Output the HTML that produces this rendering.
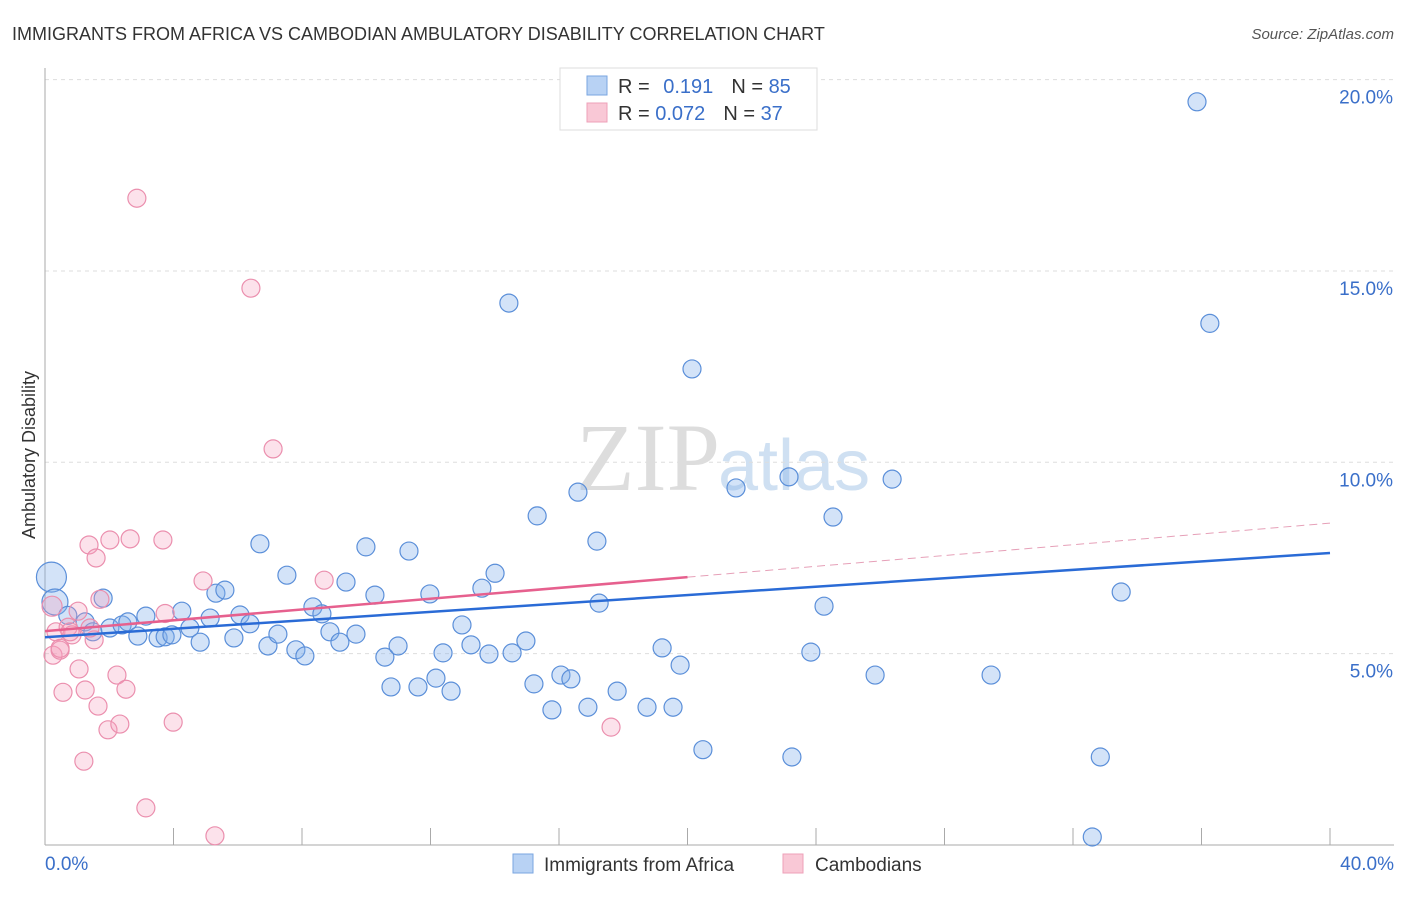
<!DOCTYPE html>
<html><head><meta charset="utf-8"><style>
body{margin:0;background:#fff;font-family:"Liberation Sans",sans-serif;}
</style></head><body>
<svg id="chart" width="1406" height="892" xmlns="http://www.w3.org/2000/svg" font-family="Liberation Sans, sans-serif">
<text x="12" y="40" font-size="18" fill="#333">IMMIGRANTS FROM AFRICA VS CAMBODIAN AMBULATORY DISABILITY CORRELATION CHART</text>
<text x="1394" y="39" font-size="15" fill="#555" text-anchor="end" font-style="italic">Source: ZipAtlas.com</text>
<text x="35" y="455" font-size="18" fill="#333" text-anchor="middle" transform="rotate(-90 35 455)">Ambulatory Disability</text>
<text x="720" y="490" font-size="96" fill="#ddd" text-anchor="end" font-family="Liberation Serif, serif">ZIP</text>
<text x="718" y="490" font-size="72" fill="#cfe0f2">atlas</text>
<g id="grid"></g><g id="axes"></g><g id="pts"></g><g id="trend"></g>
<g>
<rect x="560" y="68" width="257" height="62" fill="#fff" stroke="#ddd"/>
<rect x="587" y="76" width="20" height="19" fill="#b8d2f4" stroke="#7aa6e0"/>
<rect x="587" y="103" width="20" height="19" fill="#f9c8d6" stroke="#eea0b8"/>
<text x="618" y="93" font-size="20" fill="#333">R = <tspan fill="#3a6fc9" dx="8">0.191</tspan><tspan dx="18" fill="#333">N = </tspan><tspan fill="#3a6fc9">85</tspan></text>
<text x="618" y="120" font-size="20" fill="#333">R = <tspan fill="#3a6fc9">0.072</tspan><tspan dx="18" fill="#333">N = </tspan><tspan fill="#3a6fc9">37</tspan></text>
</g>
<g>
<rect x="513" y="854" width="20" height="19" fill="#b8d2f4" stroke="#7aa6e0"/>
<text x="544" y="871" font-size="19" fill="#333">Immigrants from Africa</text>
<rect x="783" y="854" width="20" height="19" fill="#f9c8d6" stroke="#eea0b8"/>
<text x="815" y="871" font-size="19" fill="#333">Cambodians</text>
</g>
</svg>
<script>
const yTicks=[5,10,15,20];
const yTickLabels=["5.0%","10.0%","15.0%","20.0%"];
const xTickLabels=["0.0%","40.0%"];
const blueX=[0.2,0.31,0.71,1.25,1.49,1.81,2.02,2.4,2.58,2.89,3.14,3.52,3.74,3.95,4.26,4.51,4.83,5.14,5.32,5.6,5.88,6.07,6.38,6.69,6.94,7.25,7.53,7.81,8.09,8.34,8.62,8.87,9.18,9.37,9.68,9.99,10.27,10.58,10.77,10.99,11.33,11.61,11.98,12.17,12.39,12.64,12.98,13.26,13.6,13.82,14.01,14.44,14.54,14.97,15.22,15.32,15.78,16.06,16.37,16.59,16.9,17.18,17.25,17.81,18.74,19.21,19.55,19.77,20.14,20.48,21.51,23.16,23.25,23.84,24.25,24.53,25.84,26.37,29.45,32.85,32.6,33.5,35.86,36.26];
const blueY=[7.0,6.35,6.0,5.83,5.57,6.45,5.67,5.75,5.83,5.46,5.98,5.41,5.44,5.49,6.11,5.67,5.3,5.93,6.58,6.66,5.41,6.01,5.78,7.87,5.2,5.51,7.05,5.1,4.94,6.22,6.04,5.57,5.3,6.87,5.51,7.79,6.53,4.91,4.13,5.2,7.68,4.13,6.56,4.36,5.02,4.02,5.75,5.23,6.71,4.99,7.1,14.16,5.02,5.33,4.21,8.6,3.53,4.44,4.34,9.22,3.6,7.94,6.32,4.02,3.6,5.15,3.6,4.7,12.44,2.49,9.33,9.62,2.3,5.04,6.24,8.57,4.44,9.56,4.44,2.3,0.21,6.61,19.42,13.63];
const blueR=[15,13].concat(Array(82).fill(9));
const pinkX=[0.22,0.25,0.34,0.47,0.56,0.72,0.84,1.03,1.06,1.25,1.37,1.53,1.59,1.65,1.71,2.02,1.96,2.24,2.33,2.52,2.65,2.86,3.14,3.67,3.74,3.99,4.92,5.29,6.41,7.1,8.69,1.21,17.62,0.47,0.78,1.4];
const pinkY=[6.24,4.96,5.57,5.09,3.99,5.69,5.49,6.11,4.6,4.05,7.84,5.36,7.5,3.63,6.42,7.97,3.01,4.44,3.16,4.07,8.0,16.9,0.97,7.97,6.05,3.21,6.9,0.24,14.55,10.35,6.92,2.19,3.08,5.14,5.57,5.67];
const blueTrend=[5.43,7.63];
const pinkTrend=[5.59,7.0];
const NS="http://www.w3.org/2000/svg";
const X0=45,X1=1330,Y0=845;
function xs(v){return X0+v*(X1-X0)/40;}
function ys(v){return Y0-v*38.27;}
function mk(tag,attrs,parent){const e=document.createElementNS(NS,tag);for(const k in attrs)e.setAttribute(k,attrs[k]);document.getElementById(parent).appendChild(e);return e;}
yTicks.forEach((t,i)=>{
 const l=mk('line',{x1:X0,x2:1394,y1:ys(t),y2:ys(t),stroke:'#ddd','stroke-dasharray':'4 4'},'grid');
 
 
 const tx=mk('text',{x:1393,y:ys(t)+24,'font-size':19,fill:'#3a6fc9','text-anchor':'end'},'grid');
 tx.textContent=yTickLabels[i];
 
 
});
const ax=mk('line',{x1:X0,x2:X0,y1:68,y2:Y0,stroke:'#aaa'},'axes');


const bx=mk('line',{x1:X0,x2:1394,y1:Y0,y2:Y0,stroke:'#aaa'},'axes');


for(let i=1;i<=10;i++){
 const t=mk('line',{x1:xs(i*4),x2:xs(i*4),y1:828,y2:Y0,stroke:'#aaa'},'axes');
 
 
}
[[0,'start',45],[40,'end',1394]].forEach((d,i)=>{
 const t=mk('text',{x:d[2],y:870,'font-size':19,fill:'#3a6fc9','text-anchor':d[1]},'axes');
 t.textContent=xTickLabels[i];
 
 
});
blueX.forEach((v,i)=>{
 const c=mk('circle',{cx:xs(v),cy:ys(blueY[i]),r:blueR[i]||9,fill:'rgba(130,175,235,0.35)',stroke:'#5b8fd9','stroke-width':1.2},'pts');
 
 
});
pinkX.forEach((v,i)=>{
 const c=mk('circle',{cx:xs(v),cy:ys(pinkY[i]),r:i===0?10:9,fill:'rgba(245,160,190,0.3)',stroke:'#eb8fae','stroke-width':1.2},'pts');
 
 
});
const bl=mk('line',{x1:xs(0),y1:ys(blueTrend[0]),x2:xs(40),y2:ys(blueTrend[1]),stroke:'#2a6bd6','stroke-width':2.5},'trend');


const slope=(pinkTrend[1]-pinkTrend[0])/20;
const pl=mk('line',{x1:xs(0),y1:ys(pinkTrend[0]),x2:xs(20),y2:ys(pinkTrend[1]),stroke:'#e6608e','stroke-width':2.5},'trend');


const pd=mk('line',{x1:xs(20),y1:ys(pinkTrend[1]),x2:xs(40),y2:ys(pinkTrend[0]+slope*40),stroke:'#e6a0b8','stroke-width':1,'stroke-dasharray':'8 5'},'trend');


</script>
</body></html>
